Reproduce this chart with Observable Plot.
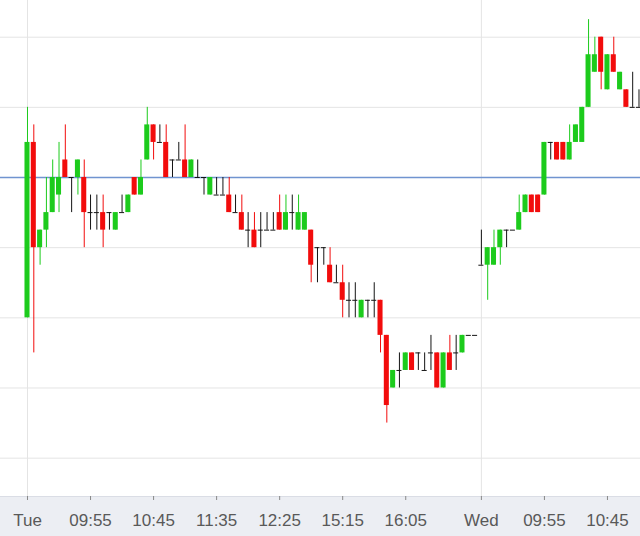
<!DOCTYPE html>
<html><head><meta charset="utf-8">
<script src="https://cdn.jsdelivr.net/npm/d3@7"></script>
<script src="https://cdn.jsdelivr.net/npm/@observablehq/plot@0.6"></script>
<style>
html,body{margin:0;padding:0;background:#fff;}
#chart svg{display:block;}
</style></head><body><div id="chart"></div>
<script>
// 5-minute candles, indexed from the first bar of Tuesday
const opens = [99.60,100.10,99.80,99.85,99.90,99.95,100.05,100.00,100.00,100.00,
99.90,99.90,99.90,99.90,99.85,99.90,99.90,100.00,99.95,100.05,
100.15,100.10,100.10,100.05,100.05,100.05,100.00,100.00,100.00,99.95,
99.95,99.95,99.95,99.90,99.90,99.85,99.85,99.85,99.85,99.85,
99.90,99.85,99.90,99.85,99.85,99.85,99.80,99.80,99.75,99.70,
99.70,99.65,99.65,99.60,99.65,99.65,99.65,99.55,99.40,99.45,
99.45,99.50,99.50,99.45,99.50,99.50,99.40,99.50,99.50,99.50,
99.55,99.55,99.75,99.75,99.75,99.80,99.85,99.85,99.85,99.90,
99.95,99.95,99.95,100.10,100.10,100.10,100.05,100.10,100.10,100.20,
100.30,100.40,100.25,100.35,100.25,100.25,100.20,100.20];
const closes = [100.10,99.80,99.85,99.90,100.00,100.00,100.00,100.00,100.05,99.90,
99.90,99.90,99.85,99.90,99.90,99.90,99.95,99.95,100.00,100.15,
100.10,100.10,100.00,100.05,100.05,100.00,100.05,100.00,100.00,100.00,
99.95,99.95,99.90,99.90,99.85,99.85,99.80,99.85,99.85,99.85,
99.85,99.90,99.90,99.90,99.90,99.75,99.80,99.80,99.70,99.70,
99.65,99.65,99.65,99.65,99.65,99.65,99.55,99.35,99.45,99.45,
99.50,99.45,99.50,99.45,99.50,99.40,99.50,99.45,99.50,99.55,
99.55,99.55,99.75,99.80,99.80,99.85,99.85,99.85,99.90,99.95,
99.90,99.90,100.10,100.10,100.05,100.05,100.10,100.15,100.20,100.35,
100.35,100.30,100.35,100.30,100.30,100.20,100.20,100.20];
const highs = [100.20,100.15,99.85,100.00,100.05,100.10,100.15,100.00,100.05,100.05,
99.95,99.95,99.95,99.90,99.90,99.95,99.95,100.00,100.05,100.20,
100.15,100.15,100.15,100.05,100.10,100.15,100.05,100.05,100.00,100.00,
100.00,100.00,100.00,99.95,99.95,99.90,99.90,99.90,99.90,99.90,
99.95,99.95,99.95,99.95,99.90,99.85,99.80,99.80,99.80,99.75,
99.75,99.70,99.70,99.65,99.65,99.70,99.65,99.55,99.45,99.50,
99.50,99.50,99.50,99.50,99.55,99.50,99.50,99.55,99.55,99.55,
99.55,99.55,99.85,99.80,99.85,99.85,99.85,99.85,99.95,99.95,
99.95,99.95,100.10,100.10,100.10,100.10,100.15,100.15,100.20,100.45,
100.40,100.40,100.35,100.40,100.30,100.25,100.30,100.25];
const lows = [99.60,99.50,99.75,99.80,99.90,99.90,100.00,99.90,99.95,99.80,
99.85,99.85,99.80,99.85,99.85,99.90,99.90,99.95,99.95,100.05,
100.05,100.10,100.00,100.00,100.05,100.00,100.00,100.00,99.95,99.95,
99.95,99.95,99.90,99.90,99.85,99.80,99.80,99.80,99.85,99.85,
99.85,99.85,99.85,99.85,99.85,99.70,99.70,99.75,99.70,99.70,
99.60,99.60,99.60,99.60,99.60,99.60,99.50,99.30,99.40,99.40,
99.45,99.45,99.45,99.45,99.45,99.40,99.40,99.45,99.45,99.50,
99.55,99.55,99.75,99.65,99.75,99.75,99.80,99.85,99.85,99.90,
99.90,99.90,99.95,100.05,100.05,100.05,100.05,100.10,100.10,100.20,
100.30,100.25,100.25,100.30,100.25,100.20,100.20,100.20];
const candleIndex = d3.range(1, opens.length + 1);

const tickIdx = [1, 11, 21, 31, 41, 51, 61, 73, 83, 93];
const tickLabels = ["Tue", "09:55", "10:45", "11:35", "12:25", "15:15", "16:05", "Wed", "09:55", "10:45"];
const dayStarts = [1, 73];
const gridPrices = [99.2, 99.4, 99.6, 99.8, 100.2, 100.4];
const prevClose = 100.0;

const data = candleIndex.map((i, k) => ({i, open: opens[k], high: highs[k], low: lows[k], close: closes[k]}));
const col = d => d.close > d.open ? "#1ccb1c" : d.close < d.open ? "#f20c0c" : "#141414";
const W = 0.4;

const chart = Plot.plot({
  width: 640, height: 536,
  marginTop: 0, marginRight: 0, marginLeft: 0, marginBottom: 40,
  x: {domain: [-3.283, 98.24], label: null},
  y: {domain: [99.0907, 100.5046], axis: null},
  style: {background: "transparent", fontFamily: "'Liberation Sans', Arial, sans-serif"},
  marks: [
    Plot.ruleY(gridPrices, {stroke: "#e4e4e4", strokeWidth: 1}),
    Plot.ruleX(dayStarts, {stroke: "#e4e4e4", strokeWidth: 1}),
    Plot.ruleY([prevClose], {stroke: "#7094d0", strokeWidth: 1.6}),
    Plot.ruleX(data, {x: "i", y1: "low", y2: "high", stroke: col, strokeWidth: 1}),
    Plot.rect(data.filter(d => d.open !== d.close), {x1: d => d.i - W, x2: d => d.i + W, y1: "open", y2: "close", fill: col}),
    Plot.ruleY(data.filter(d => d.open === d.close), {y: "open", x1: d => d.i - W, x2: d => d.i + W, stroke: col, strokeWidth: 1}),
    Plot.axisX(tickIdx, {tickFormat: d => tickLabels[tickIdx.indexOf(d)], label: null, tickSize: 4, tickPadding: 13, fontSize: 17, stroke: "#888"})
  ]
});

const svg = d3.select(chart);
svg.insert("rect", ":first-child").attr("x", 0).attr("y", 496).attr("width", 640).attr("height", 40).attr("fill", "#eceef3");
svg.insert("line", "rect + *").attr("x1", 0).attr("x2", 640).attr("y1", 496.5).attr("y2", 496.5).attr("stroke", "#dadde5");
svg.selectAll("[aria-label='x-axis tick label'] text, [aria-label='x-axis tick label']").attr("fill", "#595959");
document.getElementById("chart").appendChild(chart);
</script></body></html>
